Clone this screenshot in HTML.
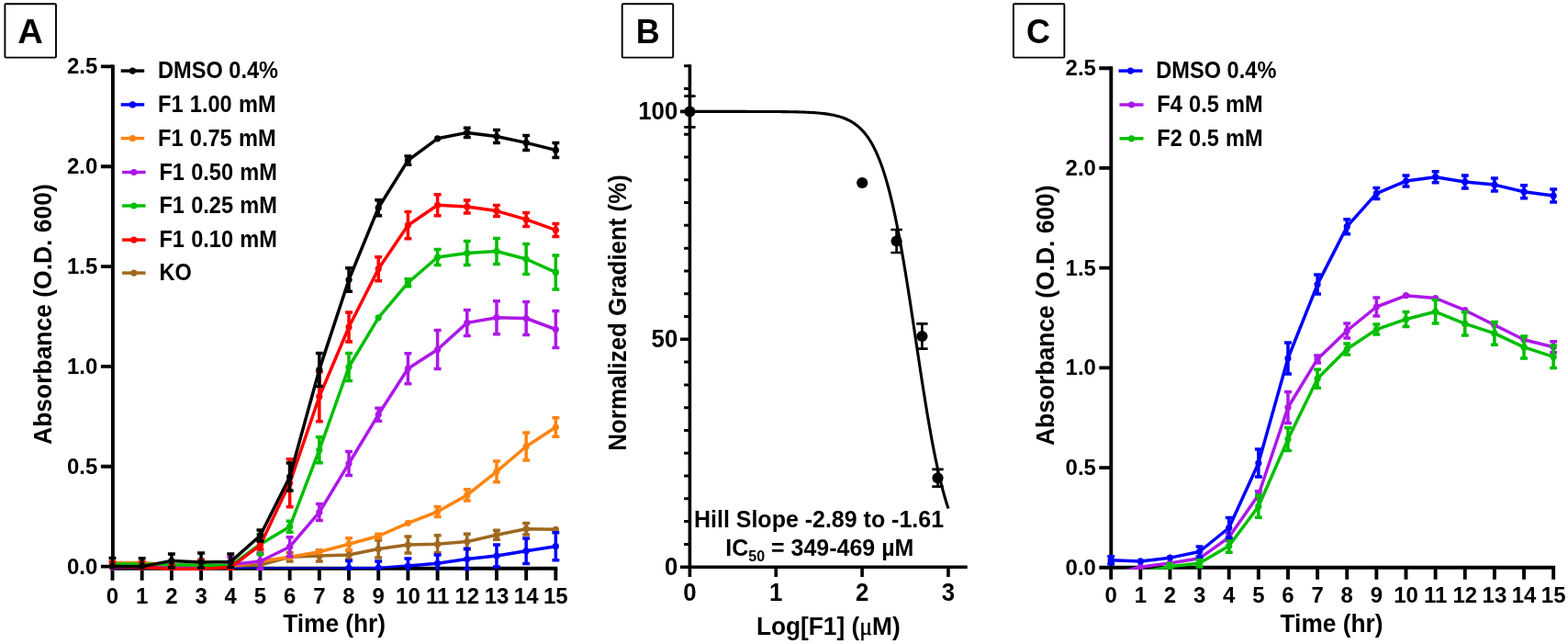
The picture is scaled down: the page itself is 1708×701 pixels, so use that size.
<!DOCTYPE html>
<html lang="en"><head><meta charset="utf-8"><title>Growth curves and dose response</title>
<style>html,body{margin:0;padding:0;background:#fff}body{width:1708px;height:701px;overflow:hidden}svg{display:block}text{font-family:'Liberation Sans', Arial, Helvetica, sans-serif;font-weight:bold;fill:#000}</style>
</head><body>
<svg width="1708" height="701" viewBox="0 0 1708 701">
<rect width="1708" height="701" fill="#fff"/>
<defs><clipPath id="clipA"><rect x="100" y="60" width="540" height="561"/></clipPath><clipPath id="clipC"><rect x="1190" y="60" width="518" height="559.8"/></clipPath></defs>
<g stroke="#000" stroke-width="3.9" fill="none" stroke-linecap="butt"><path d="M122.9 70.45V620.65"/><path d="M120.95 618.7H607.3"/><path d="M109.9 72.4H122.9M109.9 181.24H122.9M109.9 290.08H122.9M109.9 398.92H122.9M109.9 507.76H122.9M109.9 616.6H122.9M122.5 618.7V631.7M154.69 618.7V631.7M186.88 618.7V631.7M219.07 618.7V631.7M251.26 618.7V631.7M283.45 618.7V631.7M315.64 618.7V631.7M347.83 618.7V631.7M380.02 618.7V631.7M412.21 618.7V631.7M444.4 618.7V631.7M476.59 618.7V631.7M508.78 618.7V631.7M540.97 618.7V631.7M573.16 618.7V631.7M605.35 618.7V631.7"/></g>
<text transform="translate(106.3 80.3) scale(1 1.005)" font-size="24" text-anchor="end">2.5</text>
<text transform="translate(106.3 189.14) scale(1 1.005)" font-size="24" text-anchor="end">2.0</text>
<text transform="translate(106.3 297.98) scale(1 1.005)" font-size="24" text-anchor="end">1.5</text>
<text transform="translate(106.3 406.82) scale(1 1.005)" font-size="24" text-anchor="end">1.0</text>
<text transform="translate(106.3 515.66) scale(1 1.005)" font-size="24" text-anchor="end">0.5</text>
<text transform="translate(106.3 624.5) scale(1 1.005)" font-size="24" text-anchor="end">0.0</text>
<text transform="translate(122.5 656.7) scale(1 1.005)" font-size="24" text-anchor="middle">0</text>
<text transform="translate(154.69 656.7) scale(1 1.005)" font-size="24" text-anchor="middle">1</text>
<text transform="translate(186.88 656.7) scale(1 1.005)" font-size="24" text-anchor="middle">2</text>
<text transform="translate(219.07 656.7) scale(1 1.005)" font-size="24" text-anchor="middle">3</text>
<text transform="translate(251.26 656.7) scale(1 1.005)" font-size="24" text-anchor="middle">4</text>
<text transform="translate(283.45 656.7) scale(1 1.005)" font-size="24" text-anchor="middle">5</text>
<text transform="translate(315.64 656.7) scale(1 1.005)" font-size="24" text-anchor="middle">6</text>
<text transform="translate(347.83 656.7) scale(1 1.005)" font-size="24" text-anchor="middle">7</text>
<text transform="translate(380.02 656.7) scale(1 1.005)" font-size="24" text-anchor="middle">8</text>
<text transform="translate(412.21 656.7) scale(1 1.005)" font-size="24" text-anchor="middle">9</text>
<text transform="translate(444.4 656.7) scale(1 1.005)" font-size="24" text-anchor="middle">10</text>
<text transform="translate(476.59 656.7) scale(1 1.005)" font-size="24" text-anchor="middle">11</text>
<text transform="translate(508.78 656.7) scale(1 1.005)" font-size="24" text-anchor="middle">12</text>
<text transform="translate(540.97 656.7) scale(1 1.005)" font-size="24" text-anchor="middle">13</text>
<text transform="translate(573.16 656.7) scale(1 1.005)" font-size="24" text-anchor="middle">14</text>
<text transform="translate(605.35 656.7) scale(1 1.005)" font-size="24" text-anchor="middle">15</text>
<text transform="translate(364.1 688.2) scale(1 1.045)" font-size="26.3" text-anchor="middle">Time (hr)</text>
<text transform="translate(55.9 342.1) rotate(-90) scale(1 1.045)" font-size="26.45" text-anchor="middle">Absorbance (O.D. 600)</text>
<rect x="5.4" y="4.2" width="55.6" height="58.4" rx="1" fill="#fff" stroke="#000" stroke-width="1.9"/>
<text transform="translate(33 46.7) scale(1 1.045)" font-size="36" text-anchor="middle" textLength="27.6" lengthAdjust="spacingAndGlyphs">A</text>
<g stroke="#9e681f" fill="#9e681f" stroke-linejoin="round" stroke-linecap="butt" clip-path="url(#clipA)"><polyline points="122.5,617 154.69,617 186.88,617 219.07,617 251.26,617 283.45,615 315.64,606.3 347.83,605.1 380.02,604 412.21,597.5 444.4,593.1 476.59,592.3 508.78,589.6 540.97,582.3 573.16,575.7 605.35,576.3" fill="none" stroke-width="3.5"/><path d="M283.45 612V618M279.5 612H287.4M279.5 618H287.4M315.64 601.6V611M311.69 601.6H319.59M311.69 611H319.59M347.83 599.1V611.1M343.88 599.1H351.78M343.88 611.1H351.78M380.02 599V609M376.07 599H383.97M376.07 609H383.97M412.21 588V607M408.26 588H416.16M408.26 607H416.16M444.4 584.1V602.1M440.45 584.1H448.35M440.45 602.1H448.35M476.59 582.8V601.8M472.64 582.8H480.54M472.64 601.8H480.54M508.78 581.3V597.9M504.83 581.3H512.73M504.83 597.9H512.73M540.97 577.3V587.3M537.02 577.3H544.92M537.02 587.3H544.92M573.16 569.5V581.9M569.21 569.5H577.11M569.21 581.9H577.11" fill="none" stroke-width="3.5"/><circle cx="122.5" cy="617" r="3.6" stroke="none"/><circle cx="154.69" cy="617" r="3.6" stroke="none"/><circle cx="186.88" cy="617" r="3.6" stroke="none"/><circle cx="219.07" cy="617" r="3.6" stroke="none"/><circle cx="251.26" cy="617" r="3.6" stroke="none"/><circle cx="283.45" cy="615" r="3.6" stroke="none"/><circle cx="315.64" cy="606.3" r="3.6" stroke="none"/><circle cx="347.83" cy="605.1" r="3.6" stroke="none"/><circle cx="380.02" cy="604" r="3.6" stroke="none"/><circle cx="412.21" cy="597.5" r="3.6" stroke="none"/><circle cx="444.4" cy="593.1" r="3.6" stroke="none"/><circle cx="476.59" cy="592.3" r="3.6" stroke="none"/><circle cx="508.78" cy="589.6" r="3.6" stroke="none"/><circle cx="540.97" cy="582.3" r="3.6" stroke="none"/><circle cx="573.16" cy="575.7" r="3.6" stroke="none"/><circle cx="605.35" cy="576.3" r="3.6" stroke="none"/></g>
<path d="M122.5 618.3H380.02" stroke="#0000ff" stroke-width="1.4" fill="none"/>
<path d="M380.02 618.2L412.21 618.1L444.4 615.5" stroke="#0000ff" stroke-width="2.5" fill="none" stroke-linejoin="round"/>
<g stroke="#0000ff" fill="#0000ff" stroke-linejoin="round" stroke-linecap="butt" clip-path="url(#clipA)"><polyline points="380.02,618.3 412.21,618.2" fill="none" stroke-width="0"/><path d="M380.02 610.4V618.3M376.07 610.4H383.97M412.21 611V618.2M408.26 611H416.16" fill="none" stroke-width="3.5"/><circle cx="380.02" cy="618.3" r="3.6" stroke="none"/><circle cx="412.21" cy="618.2" r="3.6" stroke="none"/></g>
<g stroke="#0000ff" fill="#0000ff" stroke-linejoin="round" stroke-linecap="butt" clip-path="url(#clipA)"><polyline points="444.4,616 476.59,613.3 508.78,608.5 540.97,605 573.16,599.7 605.35,594.7" fill="none" stroke-width="3.5"/><path d="M444.4 608V624M440.45 608H448.35M440.45 624H448.35M476.59 604V622.6M472.64 604H480.54M472.64 622.6H480.54M508.78 597.2V619.8M504.83 597.2H512.73M504.83 619.8H512.73M540.97 593V617M537.02 593H544.92M537.02 617H544.92M573.16 585.9V613.5M569.21 585.9H577.11M569.21 613.5H577.11M605.35 579.7V609.7M601.4 579.7H609.3M601.4 609.7H609.3" fill="none" stroke-width="3.5"/><circle cx="444.4" cy="616" r="3.6" stroke="none"/><circle cx="476.59" cy="613.3" r="3.6" stroke="none"/><circle cx="508.78" cy="608.5" r="3.6" stroke="none"/><circle cx="540.97" cy="605" r="3.6" stroke="none"/><circle cx="573.16" cy="599.7" r="3.6" stroke="none"/><circle cx="605.35" cy="594.7" r="3.6" stroke="none"/></g>
<g stroke="#ff8410" fill="#ff8410" stroke-linejoin="round" stroke-linecap="butt" clip-path="url(#clipA)"><polyline points="122.5,612.4 154.69,612.4 186.88,615 219.07,616 251.26,616.5 283.45,611 315.64,606.3 347.83,600.7 380.02,592.2 412.21,583.5 444.4,569.3 476.59,557 508.78,538.9 540.97,513.3 573.16,486 605.35,465" fill="none" stroke-width="3.5"/><path d="M380.02 585.7V598.7M376.07 585.7H383.97M376.07 598.7H383.97M412.21 581.3V585.7M408.26 581.3H416.16M408.26 585.7H416.16M476.59 551.5V562.5M472.64 551.5H480.54M472.64 562.5H480.54M508.78 532.7V545.1M504.83 532.7H512.73M504.83 545.1H512.73M540.97 501.9V524.7M537.02 501.9H544.92M537.02 524.7H544.92M573.16 471V501M569.21 471H577.11M569.21 501H577.11M605.35 454.8V475.2M601.4 454.8H609.3M601.4 475.2H609.3" fill="none" stroke-width="3.5"/><circle cx="122.5" cy="612.4" r="3.6" stroke="none"/><circle cx="154.69" cy="612.4" r="3.6" stroke="none"/><circle cx="186.88" cy="615" r="3.6" stroke="none"/><circle cx="219.07" cy="616" r="3.6" stroke="none"/><circle cx="251.26" cy="616.5" r="3.6" stroke="none"/><circle cx="283.45" cy="611" r="3.6" stroke="none"/><circle cx="315.64" cy="606.3" r="3.6" stroke="none"/><circle cx="347.83" cy="600.7" r="3.6" stroke="none"/><circle cx="380.02" cy="592.2" r="3.6" stroke="none"/><circle cx="412.21" cy="583.5" r="3.6" stroke="none"/><circle cx="444.4" cy="569.3" r="3.6" stroke="none"/><circle cx="476.59" cy="557" r="3.6" stroke="none"/><circle cx="508.78" cy="538.9" r="3.6" stroke="none"/><circle cx="540.97" cy="513.3" r="3.6" stroke="none"/><circle cx="573.16" cy="486" r="3.6" stroke="none"/><circle cx="605.35" cy="465" r="3.6" stroke="none"/></g>
<g stroke="#ad18e8" fill="#ad18e8" stroke-linejoin="round" stroke-linecap="butt" clip-path="url(#clipA)"><polyline points="122.5,617.5 154.69,617.5 186.88,617.5 219.07,617.5 251.26,614.5 283.45,611 315.64,595.2 347.83,557.6 380.02,504.5 412.21,451.3 444.4,401.3 476.59,380.5 508.78,351.4 540.97,345.7 573.16,346.5 605.35,358.5" fill="none" stroke-width="3.5"/><path d="M251.26 606.5V622.5M247.31 606.5H255.21M247.31 622.5H255.21M283.45 602V620M279.5 602H287.4M279.5 620H287.4M315.64 584.7V605.7M311.69 584.7H319.59M311.69 605.7H319.59M347.83 548.6V566.6M343.88 548.6H351.78M343.88 566.6H351.78M380.02 491.5V517.5M376.07 491.5H383.97M376.07 517.5H383.97M412.21 444.3V458.3M408.26 444.3H416.16M408.26 458.3H416.16M444.4 384.8V417.8M440.45 384.8H448.35M440.45 417.8H448.35M476.59 359.5V401.5M472.64 359.5H480.54M472.64 401.5H480.54M508.78 337.4V365.4M504.83 337.4H512.73M504.83 365.4H512.73M540.97 327.7V363.7M537.02 327.7H544.92M537.02 363.7H544.92M573.16 328.5V364.5M569.21 328.5H577.11M569.21 364.5H577.11M605.35 338.5V378.5M601.4 338.5H609.3M601.4 378.5H609.3" fill="none" stroke-width="3.5"/><circle cx="122.5" cy="617.5" r="3.6" stroke="none"/><circle cx="154.69" cy="617.5" r="3.6" stroke="none"/><circle cx="186.88" cy="617.5" r="3.6" stroke="none"/><circle cx="219.07" cy="617.5" r="3.6" stroke="none"/><circle cx="251.26" cy="614.5" r="3.6" stroke="none"/><circle cx="283.45" cy="611" r="3.6" stroke="none"/><circle cx="315.64" cy="595.2" r="3.6" stroke="none"/><circle cx="347.83" cy="557.6" r="3.6" stroke="none"/><circle cx="380.02" cy="504.5" r="3.6" stroke="none"/><circle cx="412.21" cy="451.3" r="3.6" stroke="none"/><circle cx="444.4" cy="401.3" r="3.6" stroke="none"/><circle cx="476.59" cy="380.5" r="3.6" stroke="none"/><circle cx="508.78" cy="351.4" r="3.6" stroke="none"/><circle cx="540.97" cy="345.7" r="3.6" stroke="none"/><circle cx="573.16" cy="346.5" r="3.6" stroke="none"/><circle cx="605.35" cy="358.5" r="3.6" stroke="none"/></g>
<g stroke="#00be00" fill="#00be00" stroke-linejoin="round" stroke-linecap="butt" clip-path="url(#clipA)"><polyline points="122.5,614 154.69,614 186.88,614.8 219.07,615.3 251.26,615.5 283.45,592.5 315.64,573.3 347.83,489.8 380.02,399.5 412.21,345.8 444.4,307.8 476.59,280 508.78,275.5 540.97,273.5 573.16,282 605.35,296.4" fill="none" stroke-width="3.5"/><path d="M251.26 612.5V618.5M247.31 612.5H255.21M247.31 618.5H255.21M283.45 581.5V603.5M279.5 581.5H287.4M279.5 603.5H287.4M315.64 567.3V579.3M311.69 567.3H319.59M311.69 579.3H319.59M347.83 475.8V503.8M343.88 475.8H351.78M343.88 503.8H351.78M380.02 384.5V414.5M376.07 384.5H383.97M376.07 414.5H383.97M444.4 303.8V311.8M440.45 303.8H448.35M440.45 311.8H448.35M476.59 271.5V288.5M472.64 271.5H480.54M472.64 288.5H480.54M508.78 262.5V288.5M504.83 262.5H512.73M504.83 288.5H512.73M540.97 259.5V287.5M537.02 259.5H544.92M537.02 287.5H544.92M573.16 265.5V298.5M569.21 265.5H577.11M569.21 298.5H577.11M605.35 277.9V314.9M601.4 277.9H609.3M601.4 314.9H609.3" fill="none" stroke-width="3.5"/><circle cx="122.5" cy="614" r="3.6" stroke="none"/><circle cx="154.69" cy="614" r="3.6" stroke="none"/><circle cx="186.88" cy="614.8" r="3.6" stroke="none"/><circle cx="219.07" cy="615.3" r="3.6" stroke="none"/><circle cx="251.26" cy="615.5" r="3.6" stroke="none"/><circle cx="283.45" cy="592.5" r="3.6" stroke="none"/><circle cx="315.64" cy="573.3" r="3.6" stroke="none"/><circle cx="347.83" cy="489.8" r="3.6" stroke="none"/><circle cx="380.02" cy="399.5" r="3.6" stroke="none"/><circle cx="412.21" cy="345.8" r="3.6" stroke="none"/><circle cx="444.4" cy="307.8" r="3.6" stroke="none"/><circle cx="476.59" cy="280" r="3.6" stroke="none"/><circle cx="508.78" cy="275.5" r="3.6" stroke="none"/><circle cx="540.97" cy="273.5" r="3.6" stroke="none"/><circle cx="573.16" cy="282" r="3.6" stroke="none"/><circle cx="605.35" cy="296.4" r="3.6" stroke="none"/></g>
<g stroke="#ff0000" fill="#ff0000" stroke-linejoin="round" stroke-linecap="butt" clip-path="url(#clipA)"><polyline points="122.5,616.5 154.69,617.5 186.88,619.2 219.07,619.2 251.26,617.5 283.45,593.4 315.64,525.8 347.83,431.7 380.02,356 412.21,292.7 444.4,245.2 476.59,223.3 508.78,225 540.97,229.6 573.16,238.9 605.35,250.4" fill="none" stroke-width="3.5"/><path d="M122.5 611.8V616.5M118.55 611.8H126.45M154.69 612V617.5M150.74 612H158.64M186.88 615.2V619.2M182.93 615.2H190.83M219.07 609.2V619.2M215.12 609.2H223.02M251.26 611.5V620M247.31 611.5H255.21M247.31 620H255.21M283.45 588.9V597.9M279.5 588.9H287.4M279.5 597.9H287.4M315.64 499.8V551.8M311.69 499.8H319.59M311.69 551.8H319.59M347.83 404.7V458.7M343.88 404.7H351.78M343.88 458.7H351.78M380.02 340V372M376.07 340H383.97M376.07 372H383.97M412.21 279.7V305.7M408.26 279.7H416.16M408.26 305.7H416.16M444.4 230.6V259.8M440.45 230.6H448.35M440.45 259.8H448.35M476.59 211.8V234.8M472.64 211.8H480.54M472.64 234.8H480.54M508.78 218V232M504.83 218H512.73M504.83 232H512.73M540.97 223.6V235.6M537.02 223.6H544.92M537.02 235.6H544.92M573.16 231.4V246.4M569.21 231.4H577.11M569.21 246.4H577.11M605.35 243.4V257.4M601.4 243.4H609.3M601.4 257.4H609.3" fill="none" stroke-width="3.5"/><circle cx="122.5" cy="616.5" r="3.6" stroke="none"/><circle cx="154.69" cy="617.5" r="3.6" stroke="none"/><circle cx="186.88" cy="619.2" r="3.6" stroke="none"/><circle cx="219.07" cy="619.2" r="3.6" stroke="none"/><circle cx="251.26" cy="617.5" r="3.6" stroke="none"/><circle cx="283.45" cy="593.4" r="3.6" stroke="none"/><circle cx="315.64" cy="525.8" r="3.6" stroke="none"/><circle cx="347.83" cy="431.7" r="3.6" stroke="none"/><circle cx="380.02" cy="356" r="3.6" stroke="none"/><circle cx="412.21" cy="292.7" r="3.6" stroke="none"/><circle cx="444.4" cy="245.2" r="3.6" stroke="none"/><circle cx="476.59" cy="223.3" r="3.6" stroke="none"/><circle cx="508.78" cy="225" r="3.6" stroke="none"/><circle cx="540.97" cy="229.6" r="3.6" stroke="none"/><circle cx="573.16" cy="238.9" r="3.6" stroke="none"/><circle cx="605.35" cy="250.4" r="3.6" stroke="none"/></g>
<g stroke="#000000" fill="#000000" stroke-linejoin="round" stroke-linecap="butt" clip-path="url(#clipA)"><polyline points="122.5,616.5 154.69,616.7 186.88,610.4 219.07,612 251.26,611.6 283.45,583 315.64,519 347.83,402.4 380.02,304.5 412.21,226.2 444.4,174.6 476.59,150.8 508.78,144.4 540.97,148.5 573.16,155.4 605.35,163.4" fill="none" stroke-width="3.5"/><path d="M122.5 607.5V616.5M118.55 607.5H126.45M154.69 607.7V616.7M150.74 607.7H158.64M186.88 602.9V617.9M182.93 602.9H190.83M182.93 617.9H190.83M219.07 602V618M215.12 602H223.02M215.12 618H223.02M251.26 603.1V617.6M247.31 603.1H255.21M247.31 617.6H255.21M283.45 577V589M279.5 577H287.4M279.5 589H287.4M315.64 504V534M311.69 504H319.59M311.69 534H319.59M347.83 384.4V420.4M343.88 384.4H351.78M343.88 420.4H351.78M380.02 291.8V317.2M376.07 291.8H383.97M376.07 317.2H383.97M412.21 217.7V234.7M408.26 217.7H416.16M408.26 234.7H416.16M444.4 169.9V179.3M440.45 169.9H448.35M440.45 179.3H448.35M508.78 139.2V149.6M504.83 139.2H512.73M504.83 149.6H512.73M540.97 141.5V155.5M537.02 141.5H544.92M537.02 155.5H544.92M573.16 147.4V163.4M569.21 147.4H577.11M569.21 163.4H577.11M605.35 155.4V171.4M601.4 155.4H609.3M601.4 171.4H609.3" fill="none" stroke-width="3.5"/><circle cx="122.5" cy="616.5" r="3.6" stroke="none"/><circle cx="154.69" cy="616.7" r="3.6" stroke="none"/><circle cx="186.88" cy="610.4" r="3.6" stroke="none"/><circle cx="219.07" cy="612" r="3.6" stroke="none"/><circle cx="251.26" cy="611.6" r="3.6" stroke="none"/><circle cx="283.45" cy="583" r="3.6" stroke="none"/><circle cx="315.64" cy="519" r="3.6" stroke="none"/><circle cx="347.83" cy="402.4" r="3.6" stroke="none"/><circle cx="380.02" cy="304.5" r="3.6" stroke="none"/><circle cx="412.21" cy="226.2" r="3.6" stroke="none"/><circle cx="444.4" cy="174.6" r="3.6" stroke="none"/><circle cx="476.59" cy="150.8" r="3.6" stroke="none"/><circle cx="508.78" cy="144.4" r="3.6" stroke="none"/><circle cx="540.97" cy="148.5" r="3.6" stroke="none"/><circle cx="573.16" cy="155.4" r="3.6" stroke="none"/><circle cx="605.35" cy="163.4" r="3.6" stroke="none"/></g>
<line x1="131.7" y1="77.1" x2="157.2" y2="77.1" stroke="#000000" stroke-width="3.45"/>
<circle cx="144.45" cy="77.1" r="3.6" fill="#000000"/>
<text transform="translate(172 85.45) scale(1 1.09)" font-size="23.6" text-anchor="start">DMSO 0.4%</text>
<line x1="131.7" y1="113.9" x2="157.2" y2="113.9" stroke="#0000ff" stroke-width="3.45"/>
<circle cx="144.45" cy="113.9" r="3.6" fill="#0000ff"/>
<text transform="translate(172 122.25) scale(1 1.09)" font-size="23.6" text-anchor="start" word-spacing="0.7">F1 1.00 mM</text>
<line x1="131.7" y1="150.6" x2="157.2" y2="150.6" stroke="#ff8410" stroke-width="3.45"/>
<circle cx="144.45" cy="150.6" r="3.6" fill="#ff8410"/>
<text transform="translate(172 158.95) scale(1 1.09)" font-size="23.6" text-anchor="start" word-spacing="0.7">F1 0.75 mM</text>
<line x1="133.1" y1="187.5" x2="158.6" y2="187.5" stroke="#ad18e8" stroke-width="3.45"/>
<circle cx="145.85" cy="187.5" r="3.6" fill="#ad18e8"/>
<text transform="translate(173.4 195.85) scale(1 1.09)" font-size="23.6" text-anchor="start" word-spacing="0.7">F1 0.50 mM</text>
<line x1="133.1" y1="224" x2="158.6" y2="224" stroke="#00be00" stroke-width="3.45"/>
<circle cx="145.85" cy="224" r="3.6" fill="#00be00"/>
<text transform="translate(173.4 232.35) scale(1 1.09)" font-size="23.6" text-anchor="start" word-spacing="0.7">F1 0.25 mM</text>
<line x1="133.1" y1="261.1" x2="158.6" y2="261.1" stroke="#ff0000" stroke-width="3.45"/>
<circle cx="145.85" cy="261.1" r="3.6" fill="#ff0000"/>
<text transform="translate(173.4 269.45) scale(1 1.09)" font-size="23.6" text-anchor="start" word-spacing="0.7">F1 0.10 mM</text>
<line x1="133.1" y1="297.1" x2="158.6" y2="297.1" stroke="#9e681f" stroke-width="3.45"/>
<circle cx="145.85" cy="297.1" r="3.6" fill="#9e681f"/>
<text transform="translate(173.4 305.45) scale(1 1.09)" font-size="23.6" text-anchor="start">KO</text>
<g stroke="#000" stroke-width="3.6" fill="none"><path d="M751.4 70.32V619"/><path d="M740.9 617.2H1053.72"/><path d="M751.4 617.2V628M845.25 617.2V628M939.1 617.2V628M1032.95 617.2V628M740.9 369.3H751.4M740.9 121.4H751.4"/><path d="M745.1 592.41H751.4M745.1 567.62H751.4M745.1 542.83H751.4M745.1 518.04H751.4M745.1 493.25H751.4M745.1 468.46H751.4M745.1 443.67H751.4M745.1 418.88H751.4M745.1 394.09H751.4M745.1 344.51H751.4M745.1 319.72H751.4M745.1 294.93H751.4M745.1 270.14H751.4M745.1 245.35H751.4M745.1 220.56H751.4M745.1 195.77H751.4M745.1 170.98H751.4M745.1 146.19H751.4M745.1 96.61H751.4M745.1 71.82H751.4" stroke-width="3"/></g>
<text transform="translate(738.3 129.7) scale(1 1.045)" font-size="25.8" text-anchor="end">100</text>
<text transform="translate(738.3 377.6) scale(1 1.045)" font-size="25.8" text-anchor="end">50</text>
<text transform="translate(738.3 625.5) scale(1 1.045)" font-size="25.8" text-anchor="end">0</text>
<text transform="translate(751.4 654.2) scale(1 1.045)" font-size="25.8" text-anchor="middle">0</text>
<text transform="translate(845.25 654.2) scale(1 1.045)" font-size="25.8" text-anchor="middle">1</text>
<text transform="translate(939.1 654.2) scale(1 1.045)" font-size="25.8" text-anchor="middle">2</text>
<text transform="translate(1032.95 654.2) scale(1 1.045)" font-size="25.8" text-anchor="middle">3</text>
<text transform="translate(902.3 690.9) scale(1 1.045)" font-size="26.3" text-anchor="middle">Log[F1] (<tspan font-family="'Liberation Serif', 'DejaVu Serif', serif" font-weight="normal" font-size="25.8" stroke="#000" stroke-width="0.45">μ</tspan>M)</text>
<text transform="translate(682.4 340.4) rotate(-90) scale(1 1.045)" font-size="25.9" text-anchor="middle">Normalized Gradient (%)</text>
<rect x="677.7" y="4.2" width="55.5" height="58.4" rx="1" fill="#fff" stroke="#000" stroke-width="1.9"/>
<text transform="translate(705.7 46.7) scale(1 1.045)" font-size="36" text-anchor="middle">B</text>
<polyline points="751.4,121.4 753.16,121.4 754.92,121.4 756.68,121.4 758.44,121.4 760.2,121.4 761.96,121.4 763.72,121.4 765.48,121.4 767.24,121.4 769,121.4 770.76,121.4 772.52,121.4 774.28,121.4 776.04,121.4 777.8,121.4 779.55,121.4 781.31,121.4 783.07,121.4 784.83,121.41 786.59,121.41 788.35,121.41 790.11,121.41 791.87,121.41 793.63,121.41 795.39,121.41 797.15,121.41 798.91,121.41 800.67,121.41 802.43,121.41 804.19,121.41 805.95,121.42 807.71,121.42 809.47,121.42 811.23,121.42 812.99,121.42 814.75,121.43 816.51,121.43 818.27,121.43 820.03,121.43 821.79,121.44 823.55,121.44 825.31,121.45 827.07,121.45 828.83,121.46 830.59,121.46 832.35,121.47 834.11,121.47 835.87,121.48 837.62,121.49 839.38,121.5 841.14,121.51 842.9,121.52 844.66,121.53 846.42,121.54 848.18,121.56 849.94,121.57 851.7,121.59 853.46,121.61 855.22,121.63 856.98,121.65 858.74,121.68 860.5,121.7 862.26,121.74 864.02,121.77 865.78,121.81 867.54,121.85 869.3,121.89 871.06,121.94 872.82,121.99 874.58,122.05 876.34,122.12 878.1,122.19 879.86,122.27 881.62,122.35 883.38,122.45 885.14,122.55 886.9,122.66 888.66,122.79 890.42,122.93 892.17,123.08 893.93,123.25 895.69,123.43 897.45,123.63 899.21,123.85 900.97,124.1 902.73,124.36 904.49,124.66 906.25,124.98 908.01,125.33 909.77,125.72 911.53,126.15 913.29,126.62 915.05,127.13 916.81,127.69 918.57,128.31 920.33,128.99 922.09,129.73 923.85,130.55 925.61,131.44 927.37,132.42 929.13,133.49 930.89,134.66 932.65,135.95 934.41,137.35 936.17,138.88 937.93,140.56 939.69,142.38 941.45,144.38 943.21,146.55 944.97,148.92 946.73,151.49 948.49,154.29 950.24,157.33 952,160.63 953.76,164.2 955.52,168.06 957.28,172.24 959.04,176.74 960.8,181.58 962.56,186.79 964.32,192.37 966.08,198.34 967.84,204.72 969.6,211.51 971.36,218.73 973.12,226.37 974.88,234.45 976.64,242.95 978.4,251.88 980.16,261.21 981.92,270.94 983.68,281.04 985.44,291.49 987.2,302.26 988.96,313.3 990.72,324.59 992.48,336.07 994.24,347.69 996,359.42 997.76,371.18 999.52,382.94 1001.28,394.64 1003.04,406.23 1004.79,417.65 1006.55,428.86 1008.31,439.82 1010.07,450.49 1011.83,460.83 1013.59,470.82 1015.35,480.42 1017.11,489.63 1018.87,498.42 1020.63,506.78 1022.39,514.72 1024.15,522.23 1025.91,529.31 1027.67,535.97 1029.43,542.21 1031.19,548.06 1032.95,553.52" fill="none" stroke="#000" stroke-width="3.1" stroke-linejoin="round"/>
<path d="M751.4 104.7V138.3M745.2 104.7H757.6M745.2 138.3H757.6M976.6 250V275M970.4 250H982.8M970.4 275H982.8M1004.4 352.3V379.7M998.2 352.3H1010.6M998.2 379.7H1010.6M1021.5 510.9V529.7M1015.3 510.9H1027.7M1015.3 529.7H1027.7" fill="none" stroke="#000" stroke-width="2.7"/>
<circle cx="751.4" cy="121.5" r="6.1" fill="#000"/>
<circle cx="939.2" cy="199" r="6.1" fill="#000"/>
<circle cx="976.6" cy="262.5" r="6.1" fill="#000"/>
<circle cx="1004.4" cy="366" r="6.1" fill="#000"/>
<circle cx="1021.5" cy="520.3" r="6.1" fill="#000"/>
<text transform="translate(892 574.3) scale(1 1.045)" font-size="25" text-anchor="middle">Hill Slope -2.89 to -1.61</text>
<text transform="translate(892.8 605) scale(1 1.045)" font-size="25" text-anchor="middle">IC<tspan font-size="16" dy="5.5">50</tspan><tspan dy="-5.5"> = 349-469 µM</tspan></text>
<g stroke="#000" stroke-width="3.9" fill="none" stroke-linecap="butt"><path d="M1210.3 72.25V619.75"/><path d="M1208.35 617.8H1694.1"/><path d="M1197.3 74.2H1210.3M1197.3 182.92H1210.3M1197.3 291.64H1210.3M1197.3 400.36H1210.3M1197.3 509.08H1210.3M1197.3 617.8H1210.3M1210.2 617.8V630.8M1242.33 617.8V630.8M1274.46 617.8V630.8M1306.59 617.8V630.8M1338.72 617.8V630.8M1370.85 617.8V630.8M1402.98 617.8V630.8M1435.11 617.8V630.8M1467.24 617.8V630.8M1499.37 617.8V630.8M1531.5 617.8V630.8M1563.63 617.8V630.8M1595.76 617.8V630.8M1627.89 617.8V630.8M1660.02 617.8V630.8M1692.15 617.8V630.8"/></g>
<text transform="translate(1193.9 82.1) scale(1 1.005)" font-size="24" text-anchor="end">2.5</text>
<text transform="translate(1193.9 190.82) scale(1 1.005)" font-size="24" text-anchor="end">2.0</text>
<text transform="translate(1193.9 299.54) scale(1 1.005)" font-size="24" text-anchor="end">1.5</text>
<text transform="translate(1193.9 408.26) scale(1 1.005)" font-size="24" text-anchor="end">1.0</text>
<text transform="translate(1193.9 516.98) scale(1 1.005)" font-size="24" text-anchor="end">0.5</text>
<text transform="translate(1193.9 625.7) scale(1 1.005)" font-size="24" text-anchor="end">0.0</text>
<text transform="translate(1210.2 656.4) scale(1 1.005)" font-size="24" text-anchor="middle">0</text>
<text transform="translate(1242.33 656.4) scale(1 1.005)" font-size="24" text-anchor="middle">1</text>
<text transform="translate(1274.46 656.4) scale(1 1.005)" font-size="24" text-anchor="middle">2</text>
<text transform="translate(1306.59 656.4) scale(1 1.005)" font-size="24" text-anchor="middle">3</text>
<text transform="translate(1338.72 656.4) scale(1 1.005)" font-size="24" text-anchor="middle">4</text>
<text transform="translate(1370.85 656.4) scale(1 1.005)" font-size="24" text-anchor="middle">5</text>
<text transform="translate(1402.98 656.4) scale(1 1.005)" font-size="24" text-anchor="middle">6</text>
<text transform="translate(1435.11 656.4) scale(1 1.005)" font-size="24" text-anchor="middle">7</text>
<text transform="translate(1467.24 656.4) scale(1 1.005)" font-size="24" text-anchor="middle">8</text>
<text transform="translate(1499.37 656.4) scale(1 1.005)" font-size="24" text-anchor="middle">9</text>
<text transform="translate(1531.5 656.4) scale(1 1.005)" font-size="24" text-anchor="middle">10</text>
<text transform="translate(1563.63 656.4) scale(1 1.005)" font-size="24" text-anchor="middle">11</text>
<text transform="translate(1595.76 656.4) scale(1 1.005)" font-size="24" text-anchor="middle">12</text>
<text transform="translate(1627.89 656.4) scale(1 1.005)" font-size="24" text-anchor="middle">13</text>
<text transform="translate(1660.02 656.4) scale(1 1.005)" font-size="24" text-anchor="middle">14</text>
<text transform="translate(1692.15 656.4) scale(1 1.005)" font-size="24" text-anchor="middle">15</text>
<text transform="translate(1450.5 688.2) scale(1 1.045)" font-size="26.3" text-anchor="middle">Time (hr)</text>
<text transform="translate(1147.6 343.2) rotate(-90) scale(1 1.045)" font-size="26.45" text-anchor="middle">Absorbance (O.D. 600)</text>
<rect x="1103.9" y="4.2" width="55.5" height="58.4" rx="1" fill="#fff" stroke="#000" stroke-width="1.9"/>
<text transform="translate(1131 46.8) scale(1 1.045)" font-size="36" text-anchor="middle">C</text>
<g stroke="#ad18e8" fill="#ad18e8" stroke-linejoin="round" stroke-linecap="butt" clip-path="url(#clipC)"><polyline points="1210.2,625.7 1242.33,617.2 1274.46,613 1306.59,607.8 1338.72,584.8 1370.85,538.7 1402.98,443.5 1435.11,390.9 1467.24,360 1499.37,334 1531.5,321.7 1563.63,324.5 1595.76,337.7 1627.89,353.7 1660.02,369.7 1692.15,377.7" fill="none" stroke-width="3.5"/><path d="M1338.72 580.8V588.8M1334.77 580.8H1342.67M1334.77 588.8H1342.67M1370.85 534.7V542.7M1366.9 534.7H1374.8M1366.9 542.7H1374.8M1402.98 426.5V460.5M1399.03 426.5H1406.93M1399.03 460.5H1406.93M1435.11 386.9V394.9M1431.16 386.9H1439.06M1431.16 394.9H1439.06M1467.24 352V368M1463.29 352H1471.19M1463.29 368H1471.19M1499.37 324V344M1495.42 324H1503.32M1495.42 344H1503.32M1692.15 371.7V383.7M1688.2 371.7H1696.1M1688.2 383.7H1696.1" fill="none" stroke-width="3.5"/><circle cx="1242.33" cy="617.2" r="3.6" stroke="none"/><circle cx="1274.46" cy="613" r="3.6" stroke="none"/><circle cx="1306.59" cy="607.8" r="3.6" stroke="none"/><circle cx="1338.72" cy="584.8" r="3.6" stroke="none"/><circle cx="1370.85" cy="538.7" r="3.6" stroke="none"/><circle cx="1402.98" cy="443.5" r="3.6" stroke="none"/><circle cx="1435.11" cy="390.9" r="3.6" stroke="none"/><circle cx="1467.24" cy="360" r="3.6" stroke="none"/><circle cx="1499.37" cy="334" r="3.6" stroke="none"/><circle cx="1531.5" cy="321.7" r="3.6" stroke="none"/><circle cx="1563.63" cy="324.5" r="3.6" stroke="none"/><circle cx="1595.76" cy="337.7" r="3.6" stroke="none"/><circle cx="1627.89" cy="353.7" r="3.6" stroke="none"/><circle cx="1660.02" cy="369.7" r="3.6" stroke="none"/><circle cx="1692.15" cy="377.7" r="3.6" stroke="none"/></g>
<g stroke="#00be00" fill="#00be00" stroke-linejoin="round" stroke-linecap="butt" clip-path="url(#clipC)"><polyline points="1242.33,623.3 1274.46,616.7 1306.59,613 1338.72,594.3 1370.85,551.2 1402.98,478.1 1435.11,412.2 1467.24,380 1499.37,358.6 1531.5,347.5 1563.63,339.3 1595.76,352.4 1627.89,362.9 1660.02,377.9 1692.15,388.4" fill="none" stroke-width="3.5"/><path d="M1274.46 613.7V619.7M1270.51 613.7H1278.41M1270.51 619.7H1278.41M1306.59 609V617M1302.64 609H1310.54M1302.64 617H1310.54M1338.72 587.3V601.3M1334.77 587.3H1342.67M1334.77 601.3H1342.67M1370.85 539.2V563.2M1366.9 539.2H1374.8M1366.9 563.2H1374.8M1402.98 465.6V490.6M1399.03 465.6H1406.93M1399.03 490.6H1406.93M1435.11 402.2V422.2M1431.16 402.2H1439.06M1431.16 422.2H1439.06M1467.24 374V386M1463.29 374H1471.19M1463.29 386H1471.19M1499.37 353.1V364.1M1495.42 353.1H1503.32M1495.42 364.1H1503.32M1531.5 339.5V355.5M1527.55 339.5H1535.45M1527.55 355.5H1535.45M1563.63 326.5V352.1M1559.68 326.5H1567.58M1559.68 352.1H1567.58M1595.76 339.7V365.1M1591.81 339.7H1599.71M1591.81 365.1H1599.71M1627.89 350.5V375.3M1623.94 350.5H1631.84M1623.94 375.3H1631.84M1660.02 365.9V389.9M1656.07 365.9H1663.97M1656.07 389.9H1663.97M1692.15 376.2V400.6M1688.2 376.2H1696.1M1688.2 400.6H1696.1" fill="none" stroke-width="3.5"/><circle cx="1274.46" cy="616.7" r="3.6" stroke="none"/><circle cx="1306.59" cy="613" r="3.6" stroke="none"/><circle cx="1338.72" cy="594.3" r="3.6" stroke="none"/><circle cx="1370.85" cy="551.2" r="3.6" stroke="none"/><circle cx="1402.98" cy="478.1" r="3.6" stroke="none"/><circle cx="1435.11" cy="412.2" r="3.6" stroke="none"/><circle cx="1467.24" cy="380" r="3.6" stroke="none"/><circle cx="1499.37" cy="358.6" r="3.6" stroke="none"/><circle cx="1531.5" cy="347.5" r="3.6" stroke="none"/><circle cx="1563.63" cy="339.3" r="3.6" stroke="none"/><circle cx="1595.76" cy="352.4" r="3.6" stroke="none"/><circle cx="1627.89" cy="362.9" r="3.6" stroke="none"/><circle cx="1660.02" cy="377.9" r="3.6" stroke="none"/><circle cx="1692.15" cy="388.4" r="3.6" stroke="none"/></g>
<g stroke="#0000ff" fill="#0000ff" stroke-linejoin="round" stroke-linecap="butt"><polyline points="1210.2,609.8 1242.33,610.9 1274.46,607.1 1306.59,600.5 1338.72,574.5 1370.85,504.1 1402.98,390 1435.11,309.6 1467.24,246.7 1499.37,210.6 1531.5,197.1 1563.63,192.7 1595.76,197.9 1627.89,201.1 1660.02,208.7 1692.15,213.1" fill="none" stroke-width="3.5"/><path d="M1210.2 605.8V613.8M1206.25 605.8H1214.15M1206.25 613.8H1214.15M1306.59 595V606M1302.64 595H1310.54M1302.64 606H1310.54M1338.72 563.5V585.5M1334.77 563.5H1342.67M1334.77 585.5H1342.67M1370.85 489.1V519.1M1366.9 489.1H1374.8M1366.9 519.1H1374.8M1402.98 373V407M1399.03 373H1406.93M1399.03 407H1406.93M1435.11 299.1V320.1M1431.16 299.1H1439.06M1431.16 320.1H1439.06M1467.24 238.7V254.7M1463.29 238.7H1471.19M1463.29 254.7H1471.19M1499.37 204.6V216.6M1495.42 204.6H1503.32M1495.42 216.6H1503.32M1531.5 191.1V203.1M1527.55 191.1H1535.45M1527.55 203.1H1535.45M1563.63 186.7V198.7M1559.68 186.7H1567.58M1559.68 198.7H1567.58M1595.76 190.9V204.9M1591.81 190.9H1599.71M1591.81 204.9H1599.71M1627.89 194.1V208.1M1623.94 194.1H1631.84M1623.94 208.1H1631.84M1660.02 201.7V215.7M1656.07 201.7H1663.97M1656.07 215.7H1663.97M1692.15 206.1V220.1M1688.2 206.1H1696.1M1688.2 220.1H1696.1" fill="none" stroke-width="3.5"/><circle cx="1210.2" cy="609.8" r="3.6" stroke="none"/><circle cx="1242.33" cy="610.9" r="3.6" stroke="none"/><circle cx="1274.46" cy="607.1" r="3.6" stroke="none"/><circle cx="1306.59" cy="600.5" r="3.6" stroke="none"/><circle cx="1338.72" cy="574.5" r="3.6" stroke="none"/><circle cx="1370.85" cy="504.1" r="3.6" stroke="none"/><circle cx="1402.98" cy="390" r="3.6" stroke="none"/><circle cx="1435.11" cy="309.6" r="3.6" stroke="none"/><circle cx="1467.24" cy="246.7" r="3.6" stroke="none"/><circle cx="1499.37" cy="210.6" r="3.6" stroke="none"/><circle cx="1531.5" cy="197.1" r="3.6" stroke="none"/><circle cx="1563.63" cy="192.7" r="3.6" stroke="none"/><circle cx="1595.76" cy="197.9" r="3.6" stroke="none"/><circle cx="1627.89" cy="201.1" r="3.6" stroke="none"/><circle cx="1660.02" cy="208.7" r="3.6" stroke="none"/><circle cx="1692.15" cy="213.1" r="3.6" stroke="none"/></g>
<line x1="1218.5" y1="77.1" x2="1244.5" y2="77.1" stroke="#0000ff" stroke-width="3.45"/>
<circle cx="1231.5" cy="77.1" r="3.6" fill="#0000ff"/>
<text transform="translate(1259.3 85.45) scale(1 1.09)" font-size="23.6" text-anchor="start">DMSO 0.4%</text>
<line x1="1219.5" y1="114" x2="1245.5" y2="114" stroke="#ad18e8" stroke-width="3.45"/>
<circle cx="1232.5" cy="114" r="3.6" fill="#ad18e8"/>
<text transform="translate(1260.3 122.35) scale(1 1.09)" font-size="23.6" text-anchor="start" word-spacing="0.7">F4 0.5 mM</text>
<line x1="1219.5" y1="150.8" x2="1245.5" y2="150.8" stroke="#00be00" stroke-width="3.45"/>
<circle cx="1232.5" cy="150.8" r="3.6" fill="#00be00"/>
<text transform="translate(1260.3 159.15) scale(1 1.09)" font-size="23.6" text-anchor="start" word-spacing="0.7">F2 0.5 mM</text>
</svg></body></html>
